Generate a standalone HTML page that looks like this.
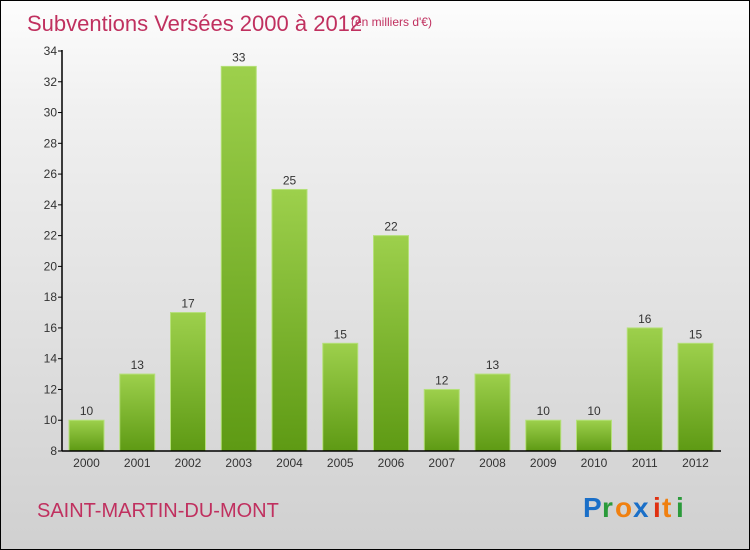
<!DOCTYPE html>
<html><head><meta charset="utf-8"><style>
body{margin:0}
#c{position:relative;width:748px;height:548px;border:1px solid #000;background:linear-gradient(#fdfdfd,#f0f0f0 20%,#d0d0d0);font-family:"Liberation Sans",sans-serif;overflow:hidden}
</style></head><body>
<div id="c">
<svg width="748" height="548" style="position:absolute;left:0;top:0">
<text x="26" y="30" font-size="22" fill="#c0305f">Subventions Versées 2000 à 2012</text>
<text x="350" y="25" font-size="12" fill="#c0305f">(en milliers d'€)</text>
<defs><linearGradient id="g" x1="0" y1="0" x2="0" y2="1"><stop offset="0" stop-color="#9dd04c"/><stop offset="1" stop-color="#5e9a14"/></linearGradient></defs>
<g id="plot"></g>
<text x="36" y="516" font-size="20" fill="#c0305f">SAINT-MARTIN-DU-MONT</text>
<g font-size="28" font-weight="bold">
<text x="582" y="516" fill="#1a6fc8">P</text><text x="601" y="516" fill="#2a9a3a">r</text><text x="614" y="516" fill="#f08010">o</text><text x="632" y="516" fill="#1a6fc8">x</text><text x="652" y="516" fill="#e03010">i</text><text x="661" y="516" fill="#f08010">t</text><text x="675" y="516" fill="#2a9a3a">i</text></g>
</svg>
</div>
<script>
const years=["2000","2001","2002","2003","2004","2005","2006","2007","2008","2009","2010","2011","2012"];
const values=[10,13,17,33,25,15,22,12,13,10,10,16,15];
const yTicks=[8,10,12,14,16,18,20,22,24,26,28,30,32,34];
const NS="http://www.w3.org/2000/svg";
const g=document.getElementById('plot');
const y=v=>450-(v-8)*400/26;
const x=i=>85.5+i*50.75;
function mk(t,a,txt){const e=document.createElementNS(NS,t);for(const k in a)e.setAttribute(k,a[k]);if(txt!=null)e.textContent=txt;g.appendChild(e);return e;}
yTicks.forEach(t=>{
const l=mk('line',{x1:57,x2:61,y1:y(t),y2:y(t),stroke:'#000'});


const s=mk('text',{x:56,y:y(t)+4,'font-size':12,'text-anchor':'end',fill:'#333'},t);


});
values.forEach((v,i)=>{
const r=mk('rect',{x:x(i)-17.5,y:y(v),width:35,height:450-y(v),fill:'url(#g)',stroke:'#b5e07a','stroke-width':1});


const s=mk('text',{x:x(i),y:y(v)-5,'font-size':12,'text-anchor':'middle',fill:'#333'},v);


const xl=mk('text',{x:x(i),y:466,'font-size':12,'text-anchor':'middle',fill:'#333'},years[i]);


});
const ya=mk('line',{x1:61,x2:61,y1:49,y2:450,stroke:'#000','stroke-width':1.5});


const xa=mk('line',{x1:61,x2:720,y1:450,y2:450,stroke:'#000','stroke-width':1.5});


</script>
</body></html>
